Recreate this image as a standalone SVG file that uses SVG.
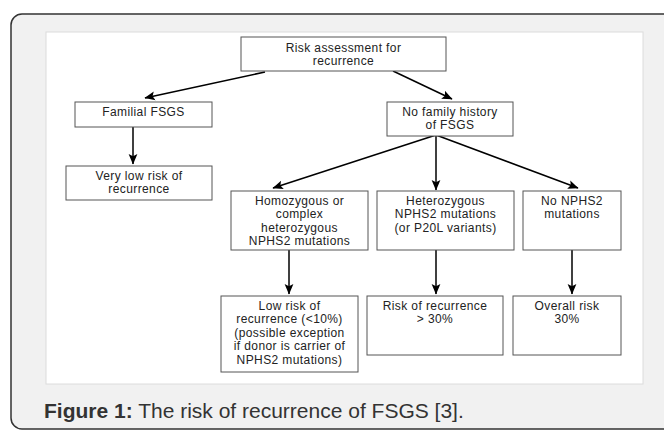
<svg xmlns="http://www.w3.org/2000/svg" width="664" height="430" viewBox="0 0 664 430">
<defs>
<marker id="ah" markerUnits="userSpaceOnUse" markerWidth="11" markerHeight="11" viewBox="0 0 10 10" refX="9" refY="5" orient="auto">
<path d="M0,1 L9.5,5 L0,9 L2,5 Z" fill="#000"/>
</marker>
<style>
.box{fill:#fff;stroke:#555;stroke-width:1}
.t{font-family:"Liberation Sans",Arial,sans-serif;font-size:12px;letter-spacing:0.4px;fill:#222;text-anchor:middle}
.c{stroke:#000;stroke-width:1.5;fill:none;marker-end:url(#ah)}
.cap{font-family:"Liberation Sans",Arial,sans-serif;font-size:21px;fill:#333}
</style>
</defs>
<rect x="0" y="0" width="664" height="430" fill="#fff"/>
<rect x="11" y="14" width="700" height="415" rx="11" fill="#f1f1f1" stroke="#333" stroke-width="1.5"/>
<rect x="46" y="32" width="597" height="352" fill="#fff" stroke="#dcdcdc" stroke-width="1"/>

<g id="connectors">
<path class="c" d="M265,72 L145,98"/>
<path class="c" d="M393,71 L452,99"/>
<path class="c" d="M133,127 L133,164"/>
<path class="c" d="M436,135 L273,188"/>
<path class="c" d="M436,135 L436,190"/>
<path class="c" d="M436,135 L578,188"/>
<path class="c" d="M289,250 L289,294"/>
<path class="c" d="M436,250 L436,294"/>
<path class="c" d="M572,250 L572,294"/>
</g>

<g id="n-risk">
<rect class="box" x="241" y="37" width="205" height="34"/>
<text class="t" x="343.5" y="51.5">Risk assessment for</text>
<text class="t" x="343.5" y="64.9">recurrence</text>
</g>
<g id="n-familial">
<rect class="box" x="75" y="102" width="137" height="25"/>
<text class="t" x="143.5" y="116">Familial FSGS</text>
</g>
<g id="n-nofamily">
<rect class="box" x="387" y="102" width="126" height="34"/>
<text class="t" x="450" y="116">No family history</text>
<text class="t" x="450" y="129.4">of FSGS</text>
</g>
<g id="n-verylow">
<rect class="box" x="66" y="166" width="146" height="34"/>
<text class="t" x="139" y="180">Very low risk of</text>
<text class="t" x="139" y="193.4">recurrence</text>
</g>
<g id="n-homo">
<rect class="box" x="231" y="191" width="137" height="59"/>
<text class="t" x="299.5" y="205">Homozygous or</text>
<text class="t" x="299.5" y="218.4">complex</text>
<text class="t" x="299.5" y="231.8">heterozygous</text>
<text class="t" x="299.5" y="245.2">NPHS2 mutations</text>
</g>
<g id="n-hetero">
<rect class="box" x="377" y="191" width="137" height="59"/>
<text class="t" x="445.5" y="205">Heterozygous</text>
<text class="t" x="445.5" y="218.4">NPHS2 mutations</text>
<text class="t" x="445.5" y="231.8">(or P20L variants)</text>
</g>
<g id="n-none">
<rect class="box" x="523" y="191" width="98" height="59"/>
<text class="t" x="572" y="205">No NPHS2</text>
<text class="t" x="572" y="218.4">mutations</text>
</g>
<g id="n-low">
<rect class="box" x="221" y="296" width="137" height="76"/>
<text class="t" x="289.5" y="310">Low risk of</text>
<text class="t" x="289.5" y="323.4">recurrence (&lt;10%)</text>
<text class="t" x="289.5" y="336.8">(possible exception</text>
<text class="t" x="289.5" y="350.2">if donor is carrier of</text>
<text class="t" x="289.5" y="363.6">NPHS2 mutations)</text>
</g>
<g id="n-riskrec">
<rect class="box" x="367" y="296" width="136" height="59"/>
<text class="t" x="435" y="310">Risk of recurrence</text>
<text class="t" x="435" y="323.4">&gt; 30%</text>
</g>
<g id="n-overall">
<rect class="box" x="513" y="296" width="108" height="59"/>
<text class="t" x="567" y="310">Overall risk</text>
<text class="t" x="567" y="323.4">30%</text>
</g>

<text class="cap" x="44" y="418"><tspan font-weight="bold">Figure 1:</tspan> The risk of recurrence of FSGS [3].</text>
</svg>
